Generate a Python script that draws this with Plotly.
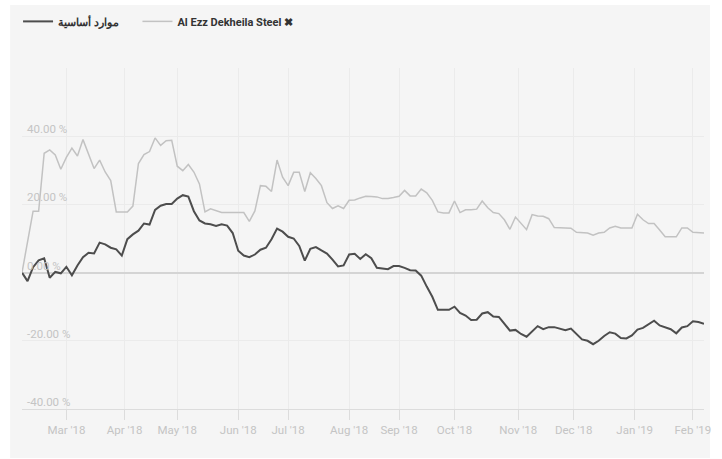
import pandas as pd
import plotly.graph_objects as go

# ---- data -------------------------------------------------------------
SERIES_NAMES = ["موارد أساسية", "Al Ezz Dekheila Steel ✖"]
START, END = "2018-02-07", "2019-02-07"
# EGX trading week Sun-Thu; exchange holidays
HOLIDAYS = ["2018-04-08", "2018-04-09", "2018-04-25", "2018-05-01",
            "2018-06-14", "2018-06-17", "2018-07-23",
            "2018-08-20", "2018-08-21", "2018-08-22", "2018-08-23",
            "2018-09-11", "2018-11-20", "2019-01-07", "2019-01-24"]

# performance (%) sampled every second trading day
basic_resources = [
    0, -2.5, 1.6, 3.6, 4.2, -1.5, 0.2, -0.2, 1.7, -0.8,
    2.1, 4.5, 5.8, 5.6, 8.8, 8.3, 7.3, 6.8, 5.0, 9.8,
    11.2, 12.3, 14.4, 14.1, 18.4, 19.6, 20.1, 20.1, 21.7, 22.7,
    22.3, 18.0, 15.3, 14.4, 14.2, 13.7, 14.2, 13.8, 11.6, 6.4,
    5.0, 4.5, 5.3, 6.7, 7.3, 9.8, 12.9, 12.0, 10.5, 10.0,
    7.8, 3.5, 7.0, 7.5, 6.5, 5.6, 3.8, 1.8, 2.1, 5.3,
    5.5, 4.0, 5.4, 4.2, 1.4, 1.3, 1.0, 1.9, 1.9, 1.4,
    0.7, 0.6, -0.9, -4.1, -7.1, -10.9, -10.9, -10.9, -10.0, -11.8,
    -12.6, -13.9, -13.8, -12.0, -11.6, -12.9, -13.0, -15.1, -17.0, -16.8,
    -18.0, -18.8, -17.2, -15.7, -16.6, -16.0, -16.0, -16.5, -16.9, -16.4,
    -17.9, -19.6, -20.0, -21.0, -20.0, -18.6, -17.5, -17.9, -19.2, -19.3,
    -18.4, -16.7, -16.2, -15.1, -14.1, -15.5, -16.1, -16.6, -17.8, -16.1,
    -15.7, -14.3, -14.5, -15.0,
]
ezz_dekheila = [
    0, 8.5, 18.0, 18.0, 35.0, 36.0, 34.5, 30.3, 33.8, 36.5,
    34.2, 39.0, 35.0, 30.5, 33.0, 29.5, 27.0, 17.8, 17.8, 17.8,
    19.5, 32.0, 34.6, 35.5, 39.5, 37.3, 38.7, 38.8, 31.2, 29.9,
    31.7, 29.5, 26.0, 17.8, 18.7, 18.2, 17.6, 17.6, 17.6, 17.6,
    17.6, 15.0, 18.1, 25.5, 25.3, 23.8, 33.0, 28.0, 25.5, 29.4,
    29.4, 23.8, 29.3, 27.6, 25.5, 20.5, 18.8, 19.6, 18.8, 21.2,
    21.3, 21.9, 22.4, 22.3, 22.2, 21.7, 21.7, 22.0, 22.4, 24.1,
    22.5, 22.5, 24.5, 23.4, 21.2, 17.8, 17.5, 17.5, 21.0, 17.6,
    18.4, 18.4, 18.6, 21.0, 19.0, 17.6, 17.3, 15.5, 12.7, 16.3,
    14.6, 12.6, 17.0, 16.6, 16.5, 15.8, 13.2, 13.1, 13.1, 13.0,
    11.8, 11.6, 11.6, 11.0, 11.6, 11.8, 13.1, 13.6, 13.1, 13.1,
    13.1, 17.1, 15.5, 14.4, 14.4, 12.5, 10.5, 10.5, 10.5, 13.1,
    13.1, 11.8, 11.8, 11.6,
]
X_TICK_DATES = ["2018-03-01", "2018-04-01", "2018-05-02", "2018-06-03",
                "2018-07-01", "2018-08-01", "2018-09-02", "2018-10-01",
                "2018-11-01", "2018-12-02", "2019-01-01", "2019-02-03"]
X_TICK_TEXT = ["Mar '18", "Apr '18", "May '18", "Jun '18", "Jul '18", "Aug '18",
               "Sep '18", "Oct '18", "Nov '18", "Dec '18", "Jan '19", "Feb '19"]
Y_TICKS = [-40, -20, 0, 20, 40, 60]
Y_LABEL_VALUES = [-40, -20, 0, 20, 40]
Y_LABEL_TEXT = ["-40.00 %", "-20.00 %", "0.00 %", "20.00 %", "40.00 %"]

# ---- calendar -----------------------------------------------------------
trade_days = pd.bdate_range(START, END, freq="C",
                            weekmask="Sun Mon Tue Wed Thu", holidays=HOLIDAYS)
dates = [d.strftime("%Y-%m-%d") for d in trade_days[::2]]
n = min(len(dates), len(basic_resources), len(ezz_dekheila))
dates = dates[:n]

# ---- figure -------------------------------------------------------------
W, H = 722, 459
ML, MR, MT, MB = 22, 11, 68, 50
FONT = "Roboto, Liberation Sans, Arial, sans-serif"
BG = "#f5f5f5"
LABEL_COLOR = "#c4c4c4"
GAP = "\u00a0" * 5  # extra spacing after the first legend entry

fig = go.Figure()
fig.add_trace(go.Scatter(
    x=dates, y=basic_resources[:n], name=SERIES_NAMES[0] + GAP, mode="lines",
    line=dict(color="#4d4d4d", width=2)))
fig.add_trace(go.Scatter(
    x=dates, y=ezz_dekheila[:n], name=SERIES_NAMES[1], mode="lines",
    line=dict(color="#c2c2c2", width=1.5)))

pw, ph = W - ML - MR, H - MT - MB
fig.add_shape(type="rect", xref="paper", yref="paper", layer="below",
              x0=(10 - ML) / pw, x1=(717 - ML) / pw,
              y0=(H - MB - 458) / ph, y1=(H - MB - 5) / ph,
              fillcolor=BG, line=dict(width=0))

for v, t in zip(Y_LABEL_VALUES, Y_LABEL_TEXT):
    fig.add_annotation(x=0, xref="paper", y=v, yref="y", text=t,
                       showarrow=False, xanchor="left", yanchor="bottom",
                       xshift=3, yshift=-2,
                       font=dict(family=FONT, size=11.5, color=LABEL_COLOR))

fig.update_layout(
    width=W, height=H,
    margin=dict(l=ML, r=MR, t=MT, b=MB),
    paper_bgcolor="white", plot_bgcolor=BG,
    font=dict(family=FONT, size=11, color="#c8c8c8"),
    showlegend=True,
    legend=dict(orientation="h", xref="container", yref="container",
                x=0.025, y=0.985, xanchor="left", yanchor="top",
                bgcolor="rgba(0,0,0,0)",
                font=dict(family=FONT, size=11, color="#333333", weight="bold"),
                itemwidth=30, tracegroupgap=0),
    hovermode=False,
)
fig.update_xaxes(
    type="date", range=[START, END],
    rangebreaks=[dict(bounds=["fri", "sun"]), dict(values=HOLIDAYS)],
    tickmode="array", tickvals=X_TICK_DATES, ticktext=X_TICK_TEXT,
    showgrid=True, gridcolor="#ebebeb", gridwidth=1,
    showline=True, linecolor="#dcdcdc", linewidth=1,
    ticks="outside", ticklen=10, tickcolor="#dcdcdc",
    tickfont=dict(size=11.5, color=LABEL_COLOR),
    zeroline=False,
)
fig.update_yaxes(
    range=[-40, 60], tickmode="array", tickvals=Y_TICKS,
    showticklabels=False,
    showgrid=True, gridcolor="#ebebeb", gridwidth=1,
    zeroline=True, zerolinecolor="#d4d4d4", zerolinewidth=2,
    showline=False, ticks="",
)

fig.write_html("out.html", config={"displayModeBar": False},
               post_script="document.body.style.margin='0px';")
